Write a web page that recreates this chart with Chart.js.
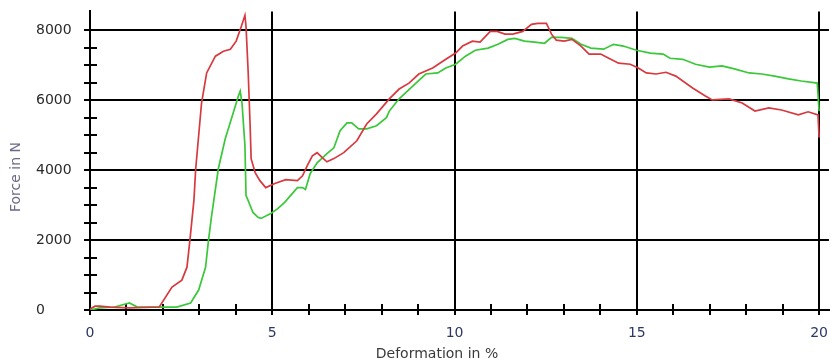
<!DOCTYPE html>
<html>
<head>
<meta charset="utf-8">
<title>Force / Deformation</title>
<script src="https://cdn.jsdelivr.net/npm/chart.js@4/dist/chart.umd.min.js"></script>
<style>
  html, body { margin: 0; padding: 0; background: #fff; }
  #wrap { width: 838px; height: 363px; position: relative; }
</style>
</head>
<body>
<div id="wrap"><canvas id="chart"></canvas></div>
<script>
// --- data ---
var redX = [0, 0.14, 0.27, 0.54, 1.08, 1.90, 2.25, 2.52, 2.66, 2.74, 2.85, 2.90, 3.06, 3.20, 3.44, 3.66, 3.85, 4.01, 4.15, 4.25,
  4.28, 4.34, 4.39, 4.42, 4.53, 4.66, 4.82, 5.07, 5.37, 5.69, 5.83, 5.96, 6.10, 6.23, 6.37, 6.50, 6.69, 6.96, 7.32, 7.59,
  7.86, 8.21, 8.48, 8.75, 9.02, 9.40, 9.76, 10.03, 10.22, 10.49, 10.70, 10.98, 11.17, 11.38, 11.60, 11.87, 12.11, 12.28, 12.52, 12.66,
  12.79, 13.01, 13.22, 13.47, 13.69, 14.01, 14.23, 14.50, 14.82, 15.04, 15.26, 15.53, 15.80, 16.07, 16.53, 16.88, 17.07, 17.53, 17.89, 18.24,
  18.62, 18.97, 19.43, 19.70, 19.97, 20.0];
var redY = [30, 110, 110, 85, 60, 85, 655, 855, 1225, 1990, 3130, 4040, 5920, 6780, 7260, 7400, 7460, 7690, 8110, 8430,
  8110, 6780, 5350, 4330, 3930, 3700, 3500, 3620, 3730, 3700, 3840, 4130, 4410, 4500, 4360, 4240, 4330, 4500, 4840, 5320,
  5610, 6040, 6320, 6490, 6750, 6920, 7170, 7350, 7550, 7690, 7660, 7970, 7970, 7890, 7890, 7970, 8170, 8200, 8200, 7890,
  7720, 7690, 7740, 7550, 7320, 7320, 7200, 7060, 7030, 6920, 6780, 6750, 6800, 6690, 6350, 6120, 6010, 6040, 5920, 5690,
  5780, 5720, 5580, 5670, 5580, 4930];

var greenX = [0, 0.27, 0.68, 1.08, 1.30, 1.68, 2.38, 2.76, 2.98, 3.17, 3.25, 3.33, 3.52, 3.71, 3.93, 4.07, 4.12, 4.17, 4.25, 4.28,
  4.34, 4.47, 4.61, 4.69, 4.96, 5.15, 5.34, 5.69, 5.83, 5.91, 6.04, 6.23, 6.50, 6.69, 6.86, 7.05, 7.18, 7.37, 7.59, 7.86,
  8.13, 8.21, 8.48, 8.86, 9.21, 9.54, 9.76, 10.03, 10.30, 10.57, 10.92, 11.19, 11.46, 11.65, 11.92, 12.20, 12.47, 12.66, 12.93, 13.22,
  13.47, 13.74, 14.09, 14.36, 14.63, 14.99, 15.37, 15.72, 15.91, 16.26, 16.61, 16.99, 17.34, 17.70, 18.08, 18.43, 18.78, 19.16, 19.51, 19.95,
  20.0];
var greenY = [0, 60, 85, 200, 85, 85, 85, 200, 570, 1220, 1990, 2650, 4040, 4900, 5640, 6120, 6260, 5920, 4700, 3270,
  3130, 2790, 2650, 2620, 2760, 2900, 3080, 3500, 3500, 3450, 3900, 4210, 4470, 4640, 5130, 5350, 5350, 5180, 5180, 5270,
  5500, 5690, 6040, 6410, 6750, 6780, 6920, 7030, 7260, 7430, 7490, 7600, 7740, 7770, 7690, 7660, 7630, 7800, 7800, 7770,
  7600, 7490, 7460, 7600, 7550, 7430, 7350, 7320, 7200, 7170, 7030, 6950, 6980, 6890, 6780, 6750, 6690, 6610, 6550, 6490,
  5690];

var xTicks = [0, 5, 10, 15, 20];
var yTicks = [0, 2000, 4000, 6000, 8000];
var xMinor = [1, 2, 3, 4, 6, 7, 8, 9, 11, 12, 13, 14, 16, 17, 18, 19];
var yMinor = [500, 1000, 1500, 2500, 3000, 3500, 4500, 5000, 5500, 6500, 7000, 7500];
var xTitle = 'Deformation in %';
var yTitle = 'Force in N';

function toPoints(xs, ys) {
  return xs.map(function (x, i) { return { x: x, y: ys[i] }; });
}

// small ticks crossing the axes + axis titles
var axisExtras = {
  id: 'axisExtras',
  beforeDatasetsDraw: function (chart) {
    var ctx = chart.ctx, x = chart.scales.x, y = chart.scales.y;
    ctx.save();
    ctx.strokeStyle = '#000';
    ctx.lineWidth = 2;
    ctx.beginPath();
    xMinor.forEach(function (v) {
      var px = Math.round(x.getPixelForValue(v));
      ctx.moveTo(px, y.bottom - 6);
      ctx.lineTo(px, y.bottom + 5);
    });
    yMinor.forEach(function (v) {
      var py = Math.round(y.getPixelForValue(v));
      ctx.moveTo(x.left - 6, py);
      ctx.lineTo(x.left + 7, py);
    });
    ctx.stroke();

    ctx.font = '14px "DejaVu Sans"';
    ctx.textAlign = 'center';
    ctx.textBaseline = 'middle';
    ctx.fillStyle = '#3a3a3a';
    ctx.fillText(xTitle, 437, 354);
    ctx.translate(16, 177);
    ctx.rotate(-Math.PI / 2);
    ctx.fillStyle = '#6a6a86';
    ctx.fillText(yTitle, 0, 0);
    ctx.restore();
  }
};

Chart.defaults.font.family = '"DejaVu Sans", sans-serif';
Chart.defaults.font.size = 14;

new Chart(document.getElementById('chart'), {
  type: 'line',
  data: {
    datasets: [
      { label: 'Red', data: toPoints(redX, redY), borderColor: '#d8393f', borderWidth: 1.7, pointRadius: 0, tension: 0 },
      { label: 'Green', data: toPoints(greenX, greenY), borderColor: '#38c838', borderWidth: 1.7, pointRadius: 0, tension: 0 }
    ]
  },
  options: {
    responsive: true,
    maintainAspectRatio: false,
    animation: false,
    devicePixelRatio: 1,
    layout: { padding: { left: 36, right: 0, top: 10, bottom: 0 } },
    plugins: { legend: { display: false }, tooltip: { enabled: false } },
    scales: {
      x: {
        type: 'linear',
        min: 0,
        max: 20.27,
        afterBuildTicks: function (s) { s.ticks = xTicks.map(function (v) { return { value: v }; }); },
        afterFit: function (s) { s.height = 53; },
        border: { display: true, color: '#000', width: 2 },
        grid: { color: '#000', lineWidth: 2, tickLength: 5 },
        ticks: { color: '#2b3766', padding: 10, maxRotation: 0, callback: function (v) { return String(v); } }
      },
      y: {
        min: 0,
        max: 8541,
        afterBuildTicks: function (s) { s.ticks = yTicks.map(function (v) { return { value: v }; }); },
        afterFit: function (s) { s.width = 54; },
        border: { display: true, color: '#000', width: 2 },
        grid: { color: '#000', lineWidth: 2, tickLength: 6 },
        ticks: { color: '#2a2a2a', crossAlign: 'far', callback: function (v) { return String(v); } }
      }
    }
  },
  plugins: [axisExtras]
});
</script>
</body>
</html>
